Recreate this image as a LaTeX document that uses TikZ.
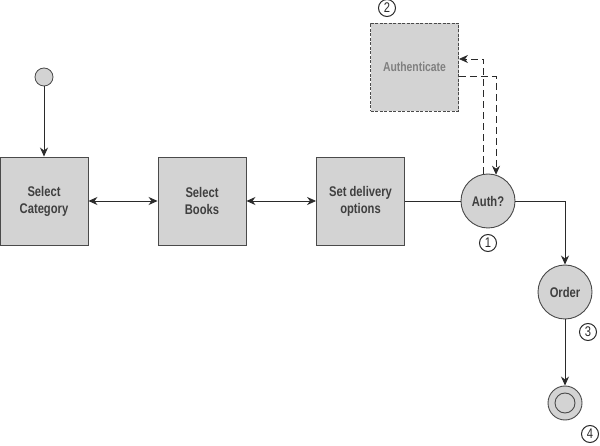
\documentclass[tikz,border=0pt]{standalone}
\usepackage{xcolor}
\usepackage{fontspec}
\setmainfont{Liberation Sans}[FakeStretch=0.8]
\usepackage{tikz}
\usetikzlibrary{arrows.meta, positioning, shapes.geometric, calc}
\definecolor{boxgray}{HTML}{D3D3D3}
\definecolor{edgegray}{HTML}{4A4A4A}
\definecolor{inkgray}{HTML}{2A2A2A}
\tikzset{
    activity/.style={draw=edgegray, fill=boxgray, line width=0.9pt, minimum width=88pt, minimum height=88pt,
        inner sep=0pt, align=center, font=\fontsize{14}{17}\selectfont\bfseries, text=inkgray!90},
    decision/.style={circle, draw=edgegray, fill=boxgray, line width=0.9pt, minimum size=54pt,
        inner sep=0pt, font=\fontsize{14}{17}\selectfont\bfseries, text=inkgray!90},
    flow/.style={draw=inkgray, line width=0.8pt, -{Stealth[length=9pt, width=8pt]}},
    twoway/.style={flow, {Stealth[length=9pt, width=8pt]}-{Stealth[length=9pt, width=8pt]}},
    wire/.style={draw=inkgray, line width=0.8pt},
    stepnum/.style={circle, draw=inkgray, line width=1pt, minimum size=17pt, inner sep=0pt,
        font=\fontsize{14}{14}\selectfont, text=inkgray}
}
\begin{document}
\begin{tikzpicture}[x=1pt, y=-1pt]
    \useasboundingbox (0,0) rectangle (600,446);

    % Start
    \node[circle, draw=edgegray, fill=boxgray, line width=0.8pt, minimum size=18pt, inner sep=0pt] (start) at (44,77) {};

    % Main activities
    \node[activity] (category) at (44,201) {Select\\Category};
    \node[activity] (books) at (202,201) {Select\\Books};
    \node[activity] (delivery) at (360.5,201) {Set delivery\\options};

    % Decision and authentication
    \node[decision] (auth) at (488,201) {Auth?};
    \node[stepnum] (num1) at (488,243) {1};
    \node[activity, dashed, dash pattern=on 3pt off 1.5pt, font=\fontsize{13}{16}\selectfont\bfseries, text=black!50] (authenticate) at (414.5,67) {Authenticate};
    \node[stepnum] (num2) at (387,8) {2};

    % Order and end
    \node[decision] (order) at (565,292) {Order};
    \node[stepnum] (num3) at (588,332) {3};
    \node[circle, draw=edgegray, fill=boxgray, line width=0.9pt, minimum size=34pt, inner sep=0pt] (finish) at (565,403) {};
    \node[circle, draw=edgegray, fill=boxgray, line width=0.9pt, minimum size=20pt, inner sep=0pt] (finishdot) at (finish) {};
    \node[stepnum] (num4) at (590,434) {4};

    % Connectors
    \draw[flow] (start) -- (category);
    \draw[twoway] (category) -- (books);
    \draw[twoway] (books) -- (delivery);
    \draw[wire] (delivery) -- (auth);
    \draw[flow] (auth.east) -| (order.north);
    \draw[flow] (order) -- (finish);
    \draw[flow, dash pattern=on 7pt off 4pt] (auth.99) |- ([yshift=8pt]authenticate.east);
    \draw[flow, dash pattern=on 7pt off 4pt] ([yshift=-9pt]authenticate.east) -| (auth.73);
\end{tikzpicture}
\end{document}
